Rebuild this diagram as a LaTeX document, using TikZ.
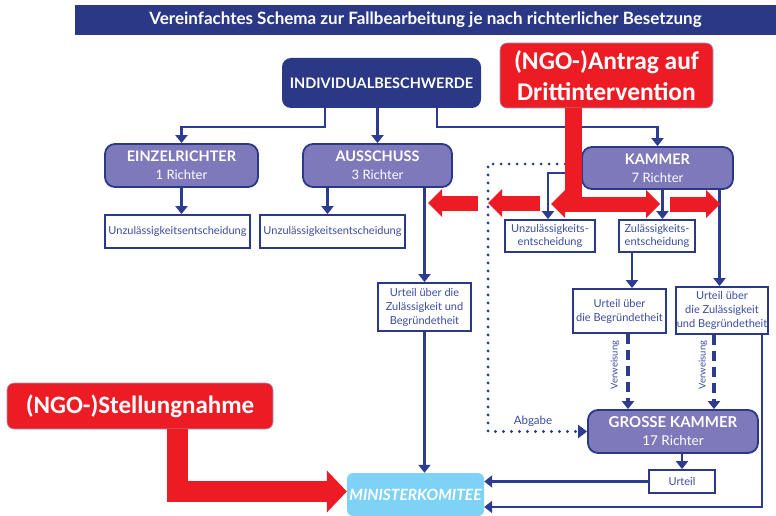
\documentclass[tikz,border=0pt]{standalone}
\usepackage{fontspec}
\setmainfont{Lato}
\newfontfamily\calib{Carlito}
\usetikzlibrary{arrows.meta}
\definecolor{navy}{RGB}{42,56,134}
\definecolor{lineblue}{RGB}{45,60,145}
\definecolor{purp}{RGB}{126,121,186}
\definecolor{txtblue}{RGB}{60,75,160}
\definecolor{ngored}{RGB}{237,28,36}
\definecolor{skyb}{RGB}{125,210,245}
\begin{document}
\begin{tikzpicture}[x=1pt,y=-1pt,
 box/.style={inner sep=0pt, align=center, anchor=center},
 darkbox/.style={box, fill=navy, rounded corners=9pt, text=white, font=\bfseries\fontsize{14.5}{17}\selectfont},
 purpbox/.style={box, fill=purp, draw=navy, line width=1.8pt, rounded corners=10pt, text=white, font=\fontsize{13}{18}\selectfont},
 whitebox/.style={box, fill=white, draw=navy, line width=1.8pt, text=txtblue, font=\fontsize{11}{14}\selectfont},
 redbox/.style={box, fill=ngored, draw=navy!50, line width=0.6pt, rounded corners=7pt, text=white, font=\calib\bfseries\fontsize{25.5}{31}\selectfont},
 conn/.style={draw=lineblue, line width=2.5pt, -{Triangle[length=8pt,width=12pt]}},
 dashconn/.style={draw=lineblue, line width=3.2pt, dash pattern=on 10pt off 6pt, -{Triangle[length=8pt,width=12pt]}},
 dotconn/.style={draw=lineblue, line width=3.2pt, line cap=round, dash pattern=on 0pt off 8pt, -{Triangle[length=9pt,width=13pt]}},
 redarr/.style={draw=ngored, line width=15pt, line join=miter},
 smalltxt/.style={text=txtblue, font=\fontsize{9.5}{10}\selectfont}
]
\fill[white] (0,0) rectangle (776,516);
\useasboundingbox (0,0) rectangle (776,516);

% title
\node[box, fill=navy, minimum width=701pt, minimum height=30pt, text=white,
  font=\bfseries\fontsize{17}{19}\selectfont] (title) at (425.5,20)
  {Vereinfachtes Schema zur Fallbearbeitung je nach richterlicher Besetzung};

% nodes
\node[darkbox, minimum width=199pt, minimum height=50pt] (indiv) at (381.5,83) {INDIVIDUALBESCHWERDE};
\node[redbox, minimum width=213pt, minimum height=65pt] (antrag) at (606.5,75.5) {(NGO-)Antrag auf\\Drittintervention};

\node[purpbox, minimum width=153pt, minimum height=43pt] (einzel) at (181.5,165.5)
  {{\bfseries\fontsize{14.5}{17}\selectfont EINZELRICHTER}\\1 Richter};
\node[purpbox, minimum width=149pt, minimum height=43pt] (ausschuss) at (377.5,165.5)
  {{\bfseries\fontsize{14.5}{17}\selectfont AUSSCHUSS}\\3 Richter};
\node[purpbox, minimum width=151pt, minimum height=42pt] (kammer) at (657.5,168)
  {{\bfseries\fontsize{14.5}{17}\selectfont KAMMER}\\7 Richter};

\node[whitebox, minimum width=145pt, minimum height=33pt] (unz1) at (177.5,231.5) {Unzulässigkeitsentscheidung};
\node[whitebox, minimum width=145pt, minimum height=33pt] (unz2) at (332.5,231.5) {Unzulässigkeitsentscheidung};
\node[whitebox, minimum width=90pt, minimum height=32pt, font=\fontsize{11}{13.5}\selectfont] (unzK) at (550,236) {Unzulässigkeits-\\entscheidung};
\node[whitebox, minimum width=76pt, minimum height=32pt, font=\fontsize{11}{13.5}\selectfont] (zulK) at (657,236) {Zulässigkeits-\\entscheidung};

\node[whitebox, minimum width=93pt, minimum height=48pt] (urteilA) at (424.5,307) {Urteil über die\\Zulässigkeit und\\Begründetheit};
\node[whitebox, minimum width=93pt, minimum height=44pt] (urteilB) at (619.5,311) {Urteil über\\die Begründetheit};
\node[whitebox, minimum width=92pt, minimum height=47pt] (urteilC) at (722,310.5) {Urteil über\\die Zulässigkeit\\und Begründetheit};

\node[purpbox, minimum width=170pt, minimum height=43pt, font=\fontsize{13.5}{18}\selectfont] (grosse) at (673,431.5)
  {{\bfseries\fontsize{15}{17}\selectfont GROSSE KAMMER}\\17 Richter};
\node[whitebox, minimum width=66pt, minimum height=23pt] (urteilG) at (682,481.5) {Urteil};

\node[box, fill=skyb, rounded corners=6pt, minimum width=137pt, minimum height=43pt, text=white,
  font=\bfseries\itshape\fontsize{15.5}{17}\selectfont] (minister) at (415.5,494.5) {MINISTERKOMITEE};

\node[redbox, minimum width=266pt, minimum height=46pt, font=\calib\bfseries\fontsize{25}{29}\selectfont] (stellung) at (140,406) {(NGO-)Stellungnahme};

% labels
\node[smalltxt, rotate=90] (verw1) at (615,365) {Verweisung};
\node[smalltxt, rotate=90] (verw2) at (703,365) {Verweisung};
\node[smalltxt, font=\fontsize{11.5}{12}\selectfont] (abgabe) at (533,421) {Abgabe};

% blue connectors
\draw[conn] ([xshift=-56.5pt]indiv.south) -- ++(0,19) -| (einzel.north);
\draw[conn] (indiv.south -| ausschuss.north) -- (ausschuss.north);
\draw[conn] ([xshift=55.5pt]indiv.south) -- ++(0,19) -| (kammer.north);

\draw[conn] (einzel.south) -- (einzel.south |- unz1.north);
\draw[conn] ([xshift=-5pt]unz2.north |- ausschuss.south) -- ([xshift=-5pt]unz2.north);
\draw[conn] (ausschuss.south -| urteilA.north) -- (urteilA.north);
\draw[conn] (urteilA.south) -- (urteilA.south |- minister.north);

\coordinate (d1) at (488,164);
\coordinate (d2) at (488,431.5);
\draw[dotconn] ([yshift=4pt]kammer.west) -- (d1) -- (d2) -- (grosse.west);

\draw[conn] ([yshift=-5pt]kammer.west) -| ([xshift=-2pt]unzK.north);
\draw[conn] ([xshift=5pt]kammer.south) -- ([xshift=5pt]kammer.south |- zulK.north);
\draw[conn] ([xshift=62pt]kammer.south) -- ([xshift=62pt]kammer.south |- urteilC.north);
\draw[conn] ([xshift=-25pt]zulK.south) -- ([xshift=-25pt]zulK.south |- urteilB.north);

\draw[dashconn] ([xshift=8.5pt]urteilB.south) -- ([xshift=8.5pt]urteilB.south |- grosse.north);
\draw[dashconn] ([xshift=-8pt]urteilC.south) -- ([xshift=-8pt]urteilC.south |- grosse.north);

\draw[conn] (urteilG.north |- grosse.south) -- (urteilG.north);
\draw[conn] (urteilG.west) -- (urteilG.west -| minister.east);
\draw[conn] ([xshift=40pt]urteilC.south) |- ([yshift=-12.5pt]minister.east);

% red arrows
\draw[redarr, line width=17pt] ([xshift=-33.5pt]antrag.south) -- ++(0,96);
\coordinate (r1) at (551,204);
\coordinate (r2) at (660,204);
\coordinate (r3) at (670,204);
\coordinate (r4) at (720,204);
\coordinate (r5) at (540,203);
\coordinate (r6) at (488,203);
\coordinate (r7) at (478,203);
\coordinate (r8) at (428,203);
\draw[redarr, {Triangle[length=14pt,width=28pt,line width=0pt]}-{Triangle[length=14pt,width=28pt,line width=0pt]}] (r1) -- (r2);
\draw[redarr, -{Triangle[length=14pt,width=28pt,line width=0pt]}] (r3) -- (r4);
\draw[redarr, -{Triangle[length=14pt,width=28pt,line width=0pt]}] (r5) -- (r6);
\draw[redarr, -{Triangle[length=14pt,width=28pt,line width=0pt]}] (r7) -- (r8);
\draw[redarr, line width=21pt, -{Triangle[length=20pt,width=42pt,line width=0pt]}]
  ([xshift=37.5pt]stellung.south) |- ([yshift=3pt]minister.west);
\end{tikzpicture}
\end{document}
